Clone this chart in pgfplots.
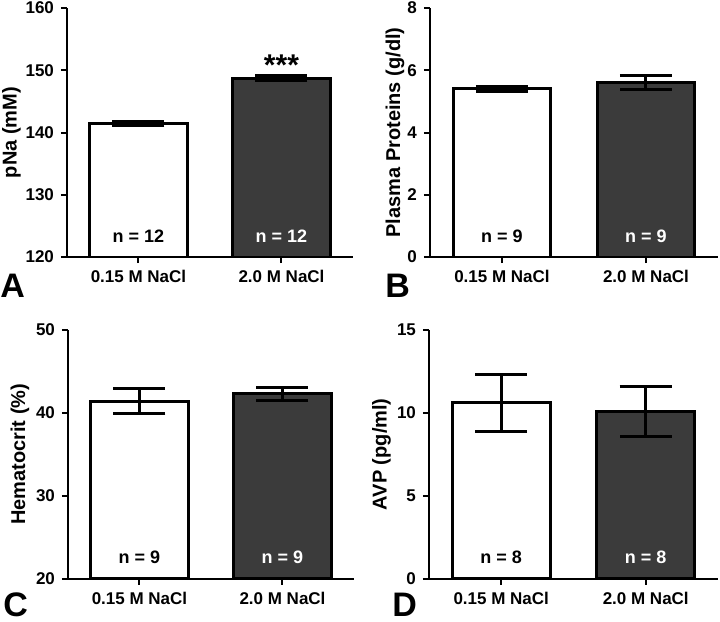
\documentclass[border=0pt]{standalone}
\usepackage{fontspec}
\setmainfont{Liberation Sans}
\usepackage{pgfplots}
\pgfplotsset{compat=1.18}
\definecolor{darkbar}{HTML}{3B3B3B}
\pgfplotsset{
  panel/.style={
    scale only axis, width=143pt, height=124.5pt,
    anchor=south west,
    axis lines=left, axis line style={line width=1pt, -},
    xmin=-0.5, xmax=1.5, xtick={0,1}, xticklabels={0.15 M NaCl, 2.0 M NaCl},
    tick style={line width=1pt, black}, major tick length=3pt, tick align=outside,
    ticklabel style={font=\fontsize{8.5}{10}\selectfont\bfseries},
    /pgf/number format/assume math mode=true,
    ylabel style={font=\fontsize{10}{12}\selectfont\bfseries, anchor=center},
    axis on top,
  },
  whitebar/.style={ybar, bar width=0.68, bar shift=0pt, fill=white, draw=black, line width=1.5pt,
    error bars/.cd, y dir=both, y explicit,
    error bar style={line width=1.5pt, black},
    error mark options={line width=1.5pt, mark size=13pt, rotate=90, black}},
  darkbar/.style={ybar, bar width=0.68, bar shift=0pt, fill=darkbar, draw=black, line width=1.5pt,
    error bars/.cd, y dir=both, y explicit,
    error bar style={line width=1.5pt, black},
    error mark options={line width=1.5pt, mark size=13pt, rotate=90, black}},
}
\newcommand{\nlab}[3]{\node[font=\fontsize{9}{10}\selectfont\bfseries, text=#3] at (rel axis cs:#1,0.085) {#2};}
\begin{document}
\begin{tikzpicture}
\useasboundingbox (0,0) rectangle (360pt,-311pt);
% Panel A
\begin{axis}[panel, at={(33.5pt,-128.5pt)}, ymin=120, ymax=160, ytick={120,130,140,150,160}, ylabel={pNa (mM)},
  ylabel style={at={(axis description cs:-0.194,0.5)}}]
\addplot[whitebar] coordinates {(0,141.5) +- (0,0.3)};
\addplot[darkbar] coordinates {(1,148.7) +- (0,0.4)};
\nlab{0.25}{n = 12}{black}
\nlab{0.75}{n = 12}{white}
\node[anchor=base, inner sep=0pt, font=\fontsize{15}{16}\selectfont\bfseries] at (axis cs:1,149.2) {***};
\end{axis}
% Panel B
\begin{axis}[panel, at={(215pt,-128.5pt)}, width=144pt, ymin=0, ymax=8, ytick={0,2,4,6,8}, ylabel={Plasma Proteins (g/dl)},
  ylabel style={at={(axis description cs:-0.1215,0.5)}}]
\addplot[whitebar] coordinates {(0,5.40) +- (0,0.08)};
\addplot[darkbar] coordinates {(1,5.60) +- (0,0.23)};
\nlab{0.25}{n = 9}{black}
\nlab{0.75}{n = 9}{white}
\end{axis}
% Panel C
\begin{axis}[panel, at={(34pt,-289.4pt)}, ymin=20, ymax=50, ytick={20,30,40,50}, ylabel={Hematocrit (\%)},
  ylabel style={at={(axis description cs:-0.168,0.5)}}]
\addplot[whitebar] coordinates {(0,41.4) +- (0,1.5)};
\addplot[darkbar] coordinates {(1,42.3) +- (0,0.8)};
\nlab{0.25}{n = 9}{black}
\nlab{0.75}{n = 9}{white}
\end{axis}
% Panel D
\begin{axis}[panel, at={(214.5pt,-289.4pt)}, width=144.5pt, ymin=0, ymax=15, ytick={0,5,10,15}, ylabel={AVP (pg/ml)},
  ylabel style={at={(axis description cs:-0.164,0.5)}}]
\addplot[whitebar] coordinates {(0,10.6) +- (0,1.7)};
\addplot[darkbar] coordinates {(1,10.1) +- (0,1.5)};
\nlab{0.25}{n = 8}{black}
\nlab{0.75}{n = 8}{white}
\end{axis}
\node[anchor=base west, inner sep=0pt, font=\fontsize{17}{18}\selectfont\bfseries] at (0pt,-148.5pt) {A};
\node[anchor=base west, inner sep=0pt, font=\fontsize{17}{18}\selectfont\bfseries] at (192.5pt,-148.5pt) {B};
\node[anchor=base west, inner sep=0pt, font=\fontsize{17}{18}\selectfont\bfseries] at (1.5pt,-308.3pt) {C};
\node[anchor=base west, inner sep=0pt, font=\fontsize{17}{18}\selectfont\bfseries] at (196pt,-308.3pt) {D};
\end{tikzpicture}
\end{document}
